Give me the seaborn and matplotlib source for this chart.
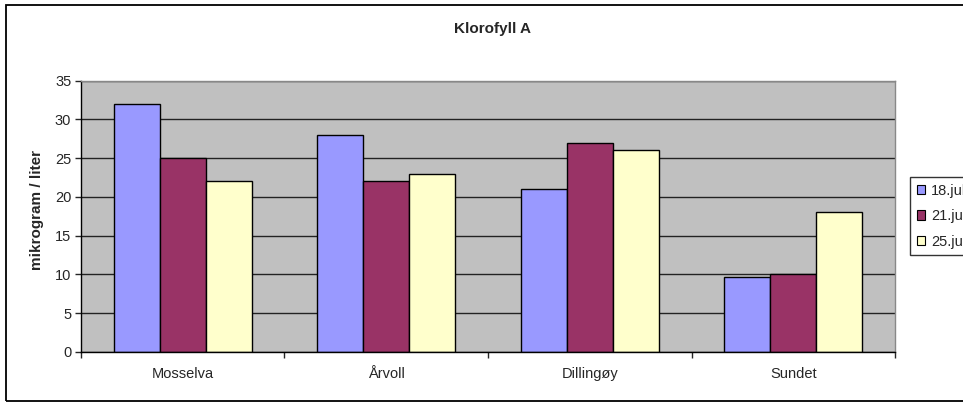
import matplotlib
matplotlib.use("Agg")
import matplotlib.pyplot as plt
import matplotlib.patches as mpatches
import pandas as pd
import seaborn as sns

steder = ["Mosselva", "Årvoll", "Dillingøy", "Sundet"]
datoer = ["18.jul", "21.jul", "25.jul"]
jul18 = [32, 28, 21, 9.7]
jul21 = [25, 22, 27, 10]
jul25 = [22, 23, 26, 18]
farger = ["#9999FF", "#993366", "#FFFFCC"]

rows = []
for dato, verdier in zip(datoer, [jul18, jul21, jul25]):
    for sted, v in zip(steder, verdier):
        rows.append({"sted": sted, "dato": dato, "verdi": v})
df = pd.DataFrame(rows)

sns.set_style("white")
plt.rcParams["font.family"] = ["Liberation Sans", "DejaVu Sans"]

fig = plt.figure(figsize=(9.63, 4.03), dpi=100)
ax = fig.add_axes([0.0841, 0.1266, 0.8453, 0.6731])

# chart frame
fig.patches.append(mpatches.Rectangle((6 / 963, 1 - 401 / 403), 1.0, 396 / 403,
                                      transform=fig.transFigure, fill=False,
                                      edgecolor="black", linewidth=1.3))

ax.set_facecolor("#C0C0C0")
ax.yaxis.grid(True, color="#222222", linewidth=1)
ax.set_axisbelow(True)

sns.barplot(data=df, x="sted", y="verdi", hue="dato", palette=farger,
            saturation=1, width=0.68, edgecolor="black", linewidth=1, ax=ax)

ax.set_ylim(0, 35)
ax.set_xlim(-0.5, 3.5)
ax.set_yticks(range(0, 36, 5))
ax.set_xlabel("")
ax.set_ylabel("")
ax.tick_params(axis="y", labelsize=10.5, length=4, width=1, direction="out", left=True, pad=3)
ax.tick_params(axis="x", which="major", labelsize=10.5, length=0, pad=11)
ax.set_xticks([-0.5, 0.5, 1.5, 2.5, 3.5], minor=True)
ax.tick_params(axis="x", which="minor", length=4, width=1, direction="out", bottom=True)

for side in ["left", "bottom"]:
    ax.spines[side].set_color("black")
    ax.spines[side].set_linewidth(1)
for side in ["top", "right"]:
    ax.spines[side].set_color("#888888")
    ax.spines[side].set_linewidth(1)

fig.text(37 / 963, 1 - 210 / 403, "mikrogram / liter", ha="center", va="center",
         rotation=90, fontsize=11, fontweight="bold")
fig.text(492 / 963, 1 - 29 / 403, "Klorofyll A", ha="center", va="center",
         fontsize=11, fontweight="bold")

# legend sits at the right edge and is clipped there, as in the original chart
ax.get_legend().remove()
handles = [mpatches.Patch(facecolor=c, edgecolor="black", linewidth=0.8) for c in farger]
leg = fig.legend(handles, datoer, loc="upper left",
                 bbox_to_anchor=(910 / 963, 1 - 177 / 403), bbox_transform=fig.transFigure,
                 fontsize=10.5, frameon=True, fancybox=False, edgecolor="black",
                 handlelength=0.6, handleheight=0.6, handletextpad=0.4,
                 labelspacing=0.8, borderpad=0.45, borderaxespad=0)
leg.get_frame().set_linewidth(1)

fig.savefig("out.png", dpi=100)
